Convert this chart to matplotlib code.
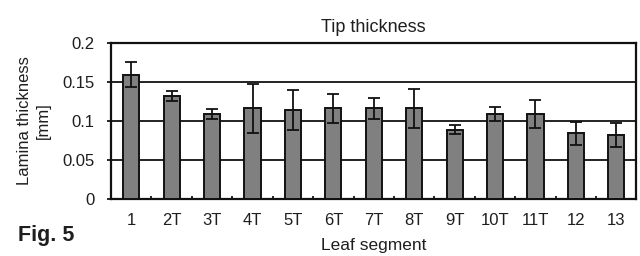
import matplotlib
matplotlib.use("Agg")
import matplotlib.pyplot as plt
import numpy as np

categories = ["1", "2T", "3T", "4T", "5T", "6T", "7T", "8T", "9T", "10T", "11T", "12", "13"]
means = [0.159, 0.132, 0.109, 0.116, 0.114, 0.116, 0.116, 0.116, 0.089, 0.109, 0.109, 0.084, 0.082]
errors = [0.016, 0.007, 0.006, 0.032, 0.026, 0.018, 0.013, 0.025, 0.006, 0.009, 0.018, 0.015, 0.016]
yticks = [0, 0.05, 0.1, 0.15, 0.2]
ytick_labels = ["0", "0.05", "0.1", "0.15", "0.2"]

plt.rcParams['font.family'] = ['Liberation Sans', 'DejaVu Sans']
txt = "#1e1e1e"

fig = plt.figure(figsize=(6.4, 2.56), dpi=100)
ax = fig.add_axes([0.1735, 0.223, 0.821, 0.609])

x = np.arange(len(categories))
ax.bar(x, means, width=0.4, color="#808080", edgecolor="#111111", linewidth=1.4, zorder=3)
ax.errorbar(x, means, yerr=errors, fmt="none", ecolor="#111111", elinewidth=1.3,
            capsize=4, capthick=1.3, zorder=4)

ax.set_xlim(-0.5, len(categories) - 0.5)
ax.set_ylim(0, 0.2)
ax.set_yticks(yticks)
ax.set_yticklabels(ytick_labels, fontsize=12, color=txt)
ax.set_xticks(x)
ax.set_xticklabels(categories, fontsize=12, color=txt)
ax.tick_params(axis="x", length=0, pad=10)
ax.tick_params(axis="y", length=3, width=1.2, pad=9)
ax.set_xticks(np.arange(0.5, len(categories) - 1, 1), minor=True)
ax.tick_params(axis="x", which="minor", length=2, width=1.2, direction="in")

ax.grid(axis="y", color="#111111", linewidth=1.3, zorder=0)
for s in ax.spines.values():
    s.set_linewidth(1.6)
    s.set_color("#111111")

ax.set_title("Tip thickness", fontsize=13, pad=8, color=txt)
ax.set_xlabel("Leaf segment", fontsize=12.5, labelpad=7, color=txt)
ax.set_ylabel("Lamina thickness\n[mm]", fontsize=12, labelpad=8, linespacing=1.35, color=txt)

fig.text(0.028, 0.058, "Fig. 5", fontsize=15.5, fontweight="bold", color=txt)

fig.savefig("out.png", dpi=100)
